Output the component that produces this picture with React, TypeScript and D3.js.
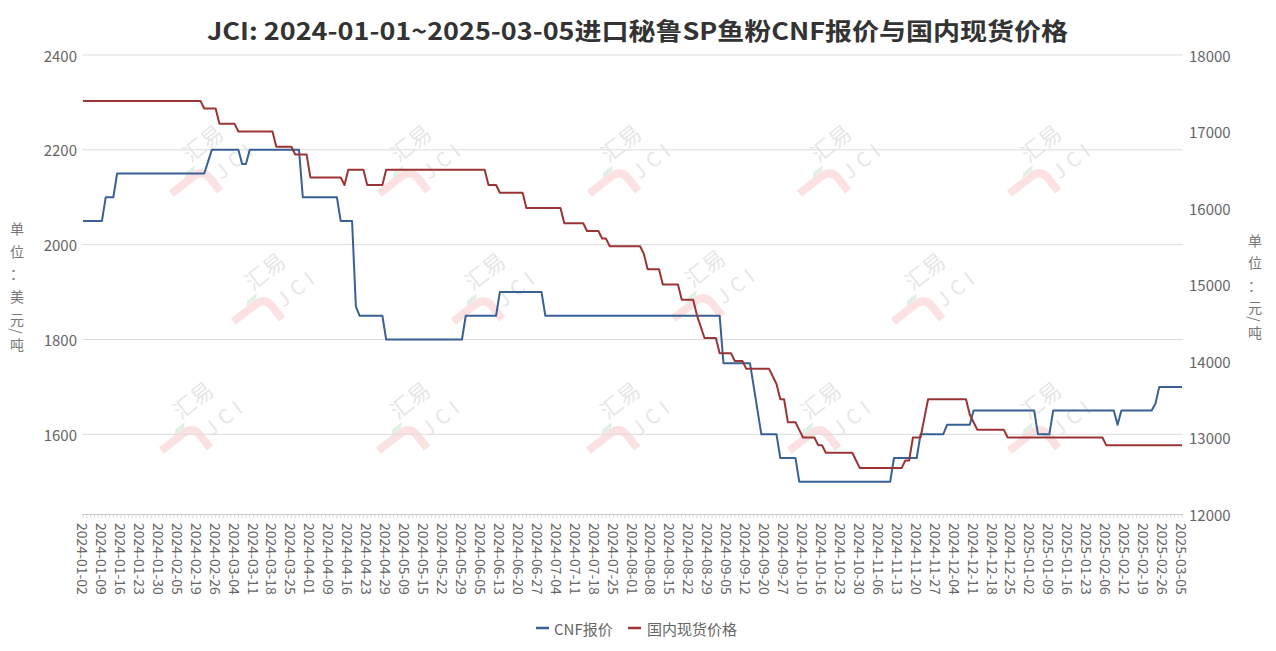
import React from "react";
import * as d3 from "d3";

const W = 1276;
const H = 651;

const TITLE = "JCI: 2024-01-01~2025-03-05进口秘鲁SP鱼粉CNF报价与国内现货价格";
const seriesNames = ["CNF报价", "国内现货价格"];
const seriesColors = ["#3a6195", "#9b3434"];
const leftAxisName = ["单", "位", "：", "美", "元", "/", "吨"];
const rightAxisName = ["单", "位", "：", "元", "/", "吨"];

// x-axis tick labels: one label every 5 trading-day categories
const TICK_EVERY = 5;
const tickLabels = [
  "2024-01-02", "2024-01-09", "2024-01-16", "2024-01-23", "2024-01-30", "2024-02-05",
  "2024-02-19", "2024-02-26", "2024-03-04", "2024-03-11", "2024-03-18", "2024-03-25",
  "2024-04-01", "2024-04-09", "2024-04-16", "2024-04-23", "2024-04-29", "2024-05-09",
  "2024-05-15", "2024-05-22", "2024-05-29", "2024-06-05", "2024-06-13", "2024-06-20",
  "2024-06-27", "2024-07-04", "2024-07-11", "2024-07-18", "2024-07-25", "2024-08-01",
  "2024-08-08", "2024-08-15", "2024-08-22", "2024-08-29", "2024-09-05", "2024-09-12",
  "2024-09-20", "2024-09-27", "2024-10-10", "2024-10-16", "2024-10-23", "2024-10-30",
  "2024-11-06", "2024-11-13", "2024-11-20", "2024-11-27", "2024-12-04", "2024-12-11",
  "2024-12-18", "2024-12-25", "2025-01-02", "2025-01-09", "2025-01-16", "2025-01-23",
  "2025-02-06", "2025-02-12", "2025-02-19", "2025-02-26", "2025-03-05",
];

// CNF quote (USD/t): [value, number of consecutive trading days]
const cnfRuns: [number, number][] = [
  [2050, 6], [2100, 3], [2150, 24], [2175, 1], [2200, 8], [2170, 2], [2200, 14],
  [2100, 10], [2050, 4], [1870, 1], [1850, 7], [1800, 21], [1850, 9], [1900, 12],
  [1850, 47], [1750, 8], [1700, 1], [1650, 1], [1600, 5], [1550, 5], [1500, 25],
  [1550, 7], [1600, 7], [1620, 7], [1650, 17], [1600, 4], [1650, 17], [1620, 1],
  [1650, 9], [1665, 1], [1700, 7],
];

// Domestic spot price (CNY/t): [value, number of consecutive trading days]
const spotRuns: [number, number][] = [
  [17400, 32], [17300, 4], [17100, 5], [17000, 10], [16800, 5], [16700, 4],
  [16400, 9], [16300, 1], [16500, 5], [16300, 5], [16500, 27], [16300, 3],
  [16200, 7], [16000, 10], [15800, 6], [15700, 4], [15600, 2], [15500, 9],
  [15400, 1], [15200, 4], [15000, 5], [14800, 4], [14600, 1], [14450, 1],
  [14300, 4], [14100, 4], [14000, 3], [13900, 7], [13800, 1], [13700, 1],
  [13500, 2], [13200, 3], [13100, 1], [13000, 4], [12900, 2], [12800, 8],
  [12700, 1], [12600, 12], [12700, 2], [13000, 3], [13250, 1], [13500, 11],
  [13300, 1], [13200, 1], [13100, 8], [13000, 26], [12900, 21],
];

const leftTicks = [1600, 1800, 2000, 2200, 2400];
const rightTicks = [12000, 13000, 14000, 15000, 16000, 17000, 18000];

function expand(runs: [number, number][]): number[] {
  const out: number[] = [];
  runs.forEach(([v, c]) => {
    for (let i = 0; i < c; i++) out.push(v);
  });
  return out;
}

const cnf = expand(cnfRuns);
const spot = expand(spotRuns);
const N = cnf.length;

const FONT = "'Noto Sans CJK SC', 'Noto Sans', sans-serif";

const plot = { left: 82, right: 1183, top: 55, bottom: 514 };

const watermarkPos: [number, number][] = [
  [205, 175], [413, 175], [623, 175], [833, 175], [1043, 175],
  [267, 303], [487, 303], [707, 300], [927, 303],
  [195, 432], [412, 432], [622, 432], [823, 432], [1043, 432],
];

function Watermark({ x, y }: { x: number; y: number }) {
  return (
    <g transform={`translate(${x},${y}) rotate(-38)`}>
      <g opacity={0.14}>
        <path d="M-38,-6 L-10,-6 Q2,-6 2,6 L2,22" fill="none" stroke="#e8363a" strokeWidth={8} />
        <path d="M-14,-14 L-2,-14 L-6,-10 L-18,-10 Z" fill="#2e9b4a" />
      </g>
      <g opacity={0.13}>
        <text x={-4} y={-18} fontSize={22} fill="#444" fontFamily={FONT}>汇易</text>
        <text x={10} y={14} fontSize={20} fill="#444" fontFamily={FONT} letterSpacing={6}>JCI</text>
      </g>
    </g>
  );
}

export default function App() {
  const x = d3.scaleLinear().domain([0, N - 1]).range([83, 1182]);
  const yL = d3.scaleLinear().domain([1431.9, 2400]).range([plot.bottom, plot.top]);
  const yR = d3.scaleLinear().domain([12000, 18000]).range([plot.bottom, plot.top]);

  const lineL = d3.line<number>().x((_, i) => x(i)).y((d) => yL(d));
  const lineR = d3.line<number>().x((_, i) => x(i)).y((d) => yR(d));

  const idx = d3.range(N);

  return (
    <svg width={W} height={H} style={{ display: "block", position: "absolute", left: 0, top: 0 }} fontFamily={FONT}>
      <rect x={0} y={0} width={W} height={H} fill="#fff" />
      <text
        x={207}
        y={40}
        fontSize={24}
        fontWeight="bold"
        fill="#333"
        textLength={861}
        lengthAdjust="spacingAndGlyphs"
      >
        {TITLE}
      </text>

      {/* watermarks */}
      {watermarkPos.map(([wx, wy], i) => (
        <Watermark key={i} x={wx} y={wy} />
      ))}

      {/* grid lines from left axis */}
      {leftTicks.map((t) => (
        <line key={t} x1={plot.left} x2={plot.right} y1={yL(t)} y2={yL(t)} stroke="#dcdcdc" strokeWidth={1} />
      ))}

      {/* left axis labels */}
      {leftTicks.map((t) => (
        <text key={t} x={77} y={yL(t)} textAnchor="end" dominantBaseline="central" fontSize={15} fill="#666">
          {t}
        </text>
      ))}
      {/* right axis labels */}
      {rightTicks.map((t) => (
        <text key={t} x={1189} y={yR(t)} textAnchor="start" dominantBaseline="central" fontSize={15} fill="#666">
          {t}
        </text>
      ))}

      {/* axis names */}
      {leftAxisName.map((c, i) => {
        const ys = [228, 251, 273, 296, 319, 331, 344];
        return c === "/" ? (
          <text key={i} x={17} y={ys[i]} fontSize={14} fill="#777" textAnchor="middle" dominantBaseline="central"
            transform={`rotate(90,17,${ys[i]})`}>/</text>
        ) : (
          <text key={i} x={17} y={ys[i]} fontSize={14} fill="#777" textAnchor="middle" dominantBaseline="central">{c}</text>
        );
      })}
      {rightAxisName.map((c, i) => {
        const ys = [240, 262, 285, 307, 319, 332];
        return c === "/" ? (
          <text key={i} x={1255} y={ys[i]} fontSize={14} fill="#777" textAnchor="middle" dominantBaseline="central"
            transform={`rotate(90,1255,${ys[i]})`}>/</text>
        ) : (
          <text key={i} x={1255} y={ys[i]} fontSize={14} fill="#777" textAnchor="middle" dominantBaseline="central">{c}</text>
        );
      })}

      {/* x axis line and ticks */}
      <line x1={plot.left} x2={plot.right} y1={plot.bottom + 0.5} y2={plot.bottom + 0.5} stroke="#c8c8c8" strokeWidth={1} />
      {idx.map((i) => (
        <line key={i} x1={x(i)} x2={x(i)} y1={plot.bottom} y2={plot.bottom + 4} stroke="#d0d0d0" strokeWidth={0.8} />
      ))}
      {tickLabels.map((lab, k) => {
        const xi = x(k * TICK_EVERY);
        return (
          <text
            key={lab}
            x={xi}
            y={523}
            fontSize={14}
            fill="#666"
            dominantBaseline="central"
            transform={`rotate(90,${xi},523)`}
          >
            {lab}
          </text>
        );
      })}

      {/* series */}
      <path d={lineL(cnf) || ""} fill="none" stroke={seriesColors[0]} strokeWidth={2} strokeLinejoin="round" />
      <path d={lineR(spot) || ""} fill="none" stroke={seriesColors[1]} strokeWidth={2} strokeLinejoin="round" />

      {/* legend */}
      <line x1={536} x2={549} y1={628} y2={628} stroke={seriesColors[0]} strokeWidth={2.5} />
      <text x={554} y={628} fontSize={15} fill="#666" dominantBaseline="central">{seriesNames[0]}</text>
      <line x1={628} x2={641} y1={628} y2={628} stroke={seriesColors[1]} strokeWidth={2.5} />
      <text x={647} y={628} fontSize={15} fill="#666" dominantBaseline="central">{seriesNames[1]}</text>
    </svg>
  );
}
